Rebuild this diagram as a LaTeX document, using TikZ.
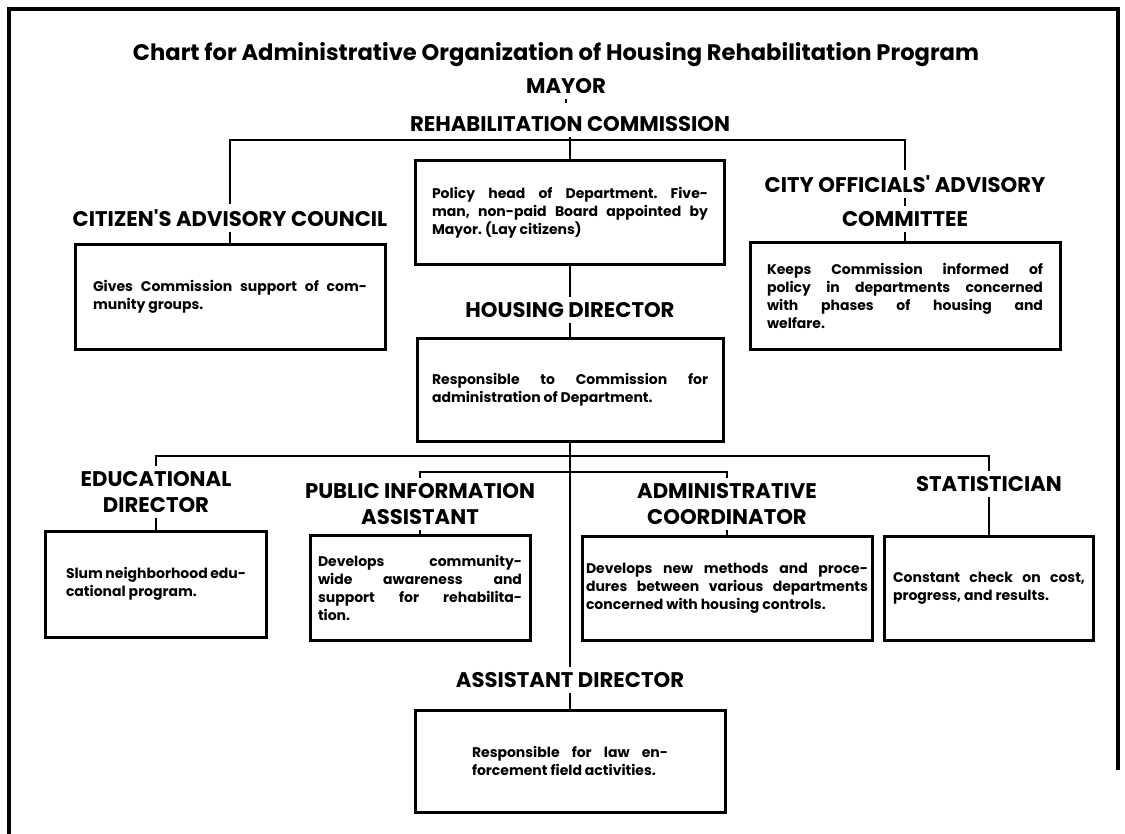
\documentclass[tikz,border=0pt]{standalone}
\usepackage{fontspec}
\setmainfont{Poppins}
\newfontfamily\headfont{Poppins}
\newfontfamily\bodyfont{Poppins}
\usetikzlibrary{positioning}

\begin{document}
\begin{tikzpicture}[x=0.5pt, y=-0.5pt,
    head/.style={font=\headfont\bfseries\fontsize{10.6}{13}\selectfont,
                 align=center, inner sep=2.5pt},
    desc/.style={draw, line width=1.5pt, align=justify, inner sep=0pt,
                 font=\bodyfont\bfseries\fontsize{7}{8.9}\selectfont\frenchspacing},
    link/.style={line width=1.2pt}]

\useasboundingbox (0,0) rectangle (1125,834);
\draw[line width=2pt] (9,834) -- (9,9) -- (1118,9) -- (1118,770);

% heads of the chart
\node[font=\headfont\bfseries] (title) at (556,55)
  {\resizebox{423pt}{9pt}{Chart for Administrative Organization of Housing Rehabilitation Program}};
\node[head] (mayor) at (566,86) {MAYOR};
\node[head] (rehab) at (570,124) {REHABILITATION COMMISSION};
\node[desc, text width=138pt, minimum width=154.5pt, minimum height=52pt] (policy) at (570,213)
  {Policy head of Department. Five-\linebreak man, non-paid Board appointed by\linebreak Mayor. (Lay citizens)};

\node[head] (cac) at (230,218) {CITIZEN'S ADVISORY COUNCIL};
\node[desc, text width=137pt, minimum width=155pt, minimum height=52.5pt] (cacbox) at (230,297)
  {Gives Commission support of com-\linebreak munity groups.};

\node[head] (coa) at (905,184) {CITY OFFICIALS' ADVISORY};
\node[head] (coc) at (905,219) {COMMITTEE};
\node[desc, text width=138pt, minimum width=155pt, minimum height=53.5pt] (coabox) at (905,296)
  {Keeps Commission informed of\linebreak policy in departments concerned\linebreak with phases of housing and\linebreak welfare.};

\node[head] (hd) at (570,310) {HOUSING DIRECTOR};
\node[desc, text width=138pt, minimum width=153pt, minimum height=51.5pt] (hdbox) at (570,390)
  {Responsible to Commission for\linebreak administration of Department.};

% staff under the director
\node[head] (edu) at (156,492) {EDUCATIONAL\\DIRECTOR};
\node[desc, text width=90pt, minimum width=110.5pt, minimum height=53pt] (edubox) at (156,584)
  {Slum neighborhood edu-\linebreak cational program.};

\node[head] (pia) at (420,504) {PUBLIC INFORMATION\\ASSISTANT};
\node[desc, text width=102pt, minimum width=110pt, minimum height=52.5pt] (piabox) at (420,588)
  {Develops community-\linebreak wide awareness and\linebreak support for rehabilita-\linebreak tion.};

\node[head] (adc) at (727,504) {ADMINISTRATIVE\\COORDINATOR};
\node[desc, text width=141pt, minimum width=145pt, minimum height=52pt] (adcbox) at (727,588)
  {Develops new methods and proce-\linebreak dures between various departments\linebreak concerned with housing controls.};

\node[head] (stat) at (989,484) {STATISTICIAN};
\node[desc, text width=96pt, minimum width=104.5pt, minimum height=52pt] (statbox) at (989,588)
  {Constant check on cost,\linebreak progress, and results.};

\node[head] (asst) at (570,680) {ASSISTANT DIRECTOR};
\node[desc, text width=98pt, minimum width=155pt, minimum height=51pt] (asstbox) at (570,761)
  {Responsible for law en-\linebreak forcement field activities.};

\coordinate (cbar) at (570,140);
\coordinate (dbar) at (570,456);
\coordinate (ebar) at (570,472);

\draw[link, shorten >=4pt] (mayor) -- (mayor |- rehab.north);
\draw[link] (rehab) -- (policy);
\draw[link] (cac) |- (cbar) -| (coa);
\draw[link] (cac) -- (cacbox);
\draw[link] (coa) -- (coc);
\draw[link] (coc) -- (coabox);
\draw[link] (policy) -- (hd);
\draw[link] (hd) -- (hdbox);
\draw[link] (hdbox) -- (asst);
\draw[link] (asst) -- (asstbox);
\draw[link] (edu) |- (dbar) -| (stat);
\draw[link] (pia) |- (ebar) -| (adc);
\draw[link] (edu) -- (edubox);
\draw[link] (pia) -- (piabox);
\draw[link] (adc) -- (adcbox);
\draw[link] (stat) -- (statbox);
\end{tikzpicture}
\end{document}
